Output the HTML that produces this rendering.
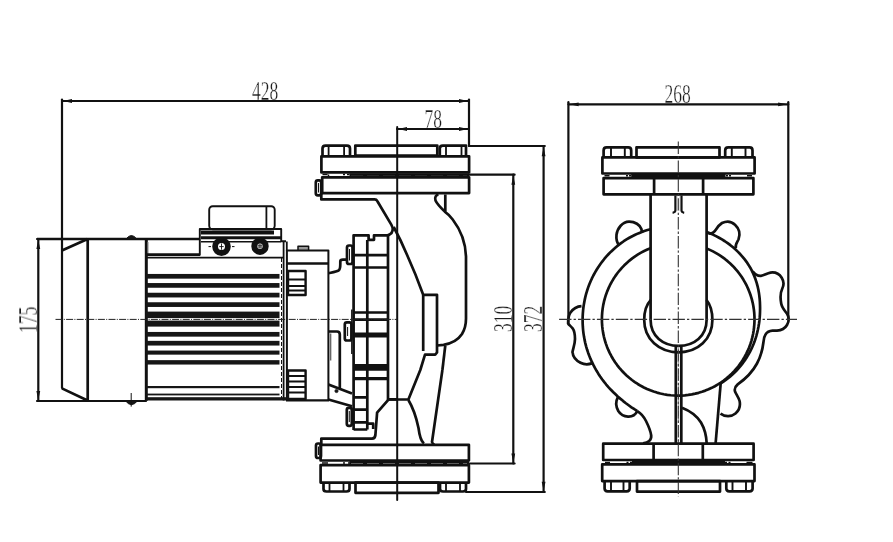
<!DOCTYPE html>
<html><head><meta charset="utf-8"><style>
html,body{margin:0;padding:0;background:#fff;width:893px;height:542px;overflow:hidden}
svg{display:block}
.t{font-family:"Liberation Serif",serif;font-size:27px;fill:#1a1a1a;stroke:#fff;stroke-width:0.35px}
</style></head><body>
<svg width="893" height="542" viewBox="0 0 893 542">
<defs>
<path id="arr" d="M0,0 L9,-1.9 L9,1.9 Z" fill="#111"/>
</defs>
<!-- texts -->
<g opacity="0.995">
<text class="t" transform="translate(252,100) scale(0.65,1)">428</text>
<text class="t" transform="translate(424.5,128) scale(0.65,1)">78</text>
<text class="t" transform="translate(664.5,103) scale(0.65,1)">268</text>
<text class="t" transform="translate(37,333) rotate(-90) scale(0.65,1)">175</text>
<text class="t" transform="translate(512,332) rotate(-90) scale(0.65,1)">310</text>
<text class="t" transform="translate(541.5,332) rotate(-90) scale(0.65,1)">372</text>
</g>
<g fill="none" stroke="#111" stroke-width="2" stroke-linecap="round">
<!-- ============ DIMENSIONS ============ -->
<g stroke-width="2.2">
<!-- 428 -->
<line x1="62" y1="101" x2="469" y2="101"/>
<line x1="62" y1="99.5" x2="62" y2="388"/>
<line x1="469" y1="99.5" x2="469" y2="146"/>
<!-- 78 -->
<line x1="397" y1="129" x2="469" y2="129"/>
<!-- 175 -->
<line x1="38.3" y1="239" x2="38.3" y2="401"/>
<line x1="37" y1="239" x2="88" y2="239"/>
<line x1="37" y1="401" x2="146" y2="401"/>
<!-- 310 -->
<line x1="513.3" y1="174.7" x2="513.3" y2="463.5"/>
<line x1="469" y1="174.7" x2="514.6" y2="174.7"/>
<line x1="469" y1="463.5" x2="514.6" y2="463.5"/>
<!-- 372 -->
<line x1="543.6" y1="146" x2="543.6" y2="492"/>
<line x1="469" y1="146" x2="544.8" y2="146"/>
<line x1="466" y1="492" x2="544.8" y2="492"/>
<!-- 268 -->
<line x1="568.4" y1="104.3" x2="788.3" y2="104.3"/>
<line x1="568.4" y1="102.2" x2="568.4" y2="323"/>
<line x1="788.3" y1="102.2" x2="788.3" y2="319.5"/>
</g>
<!-- pump axis -->
<line x1="397.2" y1="127" x2="397.2" y2="500" stroke-width="2"/>
</g>

<!-- ============ MOTOR ============ -->
<g fill="none" stroke="#111" stroke-width="2.7" stroke-linejoin="round">
<!-- end cap -->
<path d="M61.9,250.5 L87.6,239 M61.9,388.4 L87.6,400.5 M87.7,239 L87.7,400.8"/>
<line x1="37" y1="239" x2="199" y2="239"/>
<!-- bolt bumps -->
<path d="M126,239 Q131.4,232 136.8,239 Z" fill="#161616" stroke-width="1"/>
<path d="M125.5,400.8 Q131.4,408.5 137.5,400.8 Z" fill="#161616" stroke-width="1"/>
<line x1="131.2" y1="393" x2="131.2" y2="406.6" stroke-width="1"/>
<!-- body left edge -->
<line x1="146.3" y1="239" x2="146.3" y2="400.8" stroke-width="3"/>
<line x1="148" y1="242" x2="148" y2="255" stroke-width="1" stroke="#888"/>
<line x1="146" y1="254.6" x2="200" y2="254.6" stroke-width="2.6"/>
<line x1="146" y1="257.6" x2="283" y2="257.6" stroke-width="1.6"/>
</g>
<!-- fins -->
<g fill="#161616">
<rect x="146" y="273.95" width="133.5" height="4.70"/>
<rect x="146" y="283.05" width="133.5" height="4.70"/>
<rect x="146" y="292.75" width="133.5" height="4.70"/>
<rect x="146" y="302.25" width="133.5" height="4.70"/>
<rect x="146" y="311.6" width="133.5" height="6.5"/>
<rect x="146" y="320.6" width="133.5" height="6.0"/>
<rect x="146" y="331.95" width="133.5" height="4.70"/>
<rect x="146" y="340.85" width="133.5" height="4.70"/>
<rect x="146" y="350.55" width="133.5" height="4.10"/>
<rect x="146" y="360.15" width="133.5" height="4.40"/>
<rect x="146" y="386" width="133.5" height="2.2"/>
<rect x="146" y="393.6" width="133.5" height="1.8"/>
<rect x="146" y="397.2" width="140" height="3.3"/>
</g>
<g fill="none" stroke="#111" stroke-width="2.7" stroke-linejoin="round">
<!-- motor right edges -->
<line x1="283.6" y1="241.5" x2="283.6" y2="400.5" stroke-width="1.8"/>
<line x1="286.8" y1="241.5" x2="286.8" y2="251" stroke-width="1.8"/>
<line x1="281.5" y1="258" x2="281.5" y2="398" stroke-width="1" stroke-dasharray="4 2"/>
<!-- terminal box -->
<rect x="209.2" y="206.2" width="65.5" height="23" rx="3.5" stroke-width="1.9"/>
<line x1="266.4" y1="206.2" x2="266.4" y2="229" stroke-width="1.8"/>
<path d="M199.8,255.5 L199.8,229 L281.2,229 L281.2,241.3 L286,241.3" stroke-width="1.9"/>
<line x1="201" y1="232.5" x2="274" y2="232.5" stroke-width="4"/>
<line x1="201" y1="237.8" x2="281" y2="237.8" stroke-width="3"/>
<line x1="201" y1="241.8" x2="281" y2="241.8" stroke-width="1.5"/>
<!-- glands -->
<circle cx="221.5" cy="246.6" r="6.4" stroke-width="5.8"/>
<circle cx="260" cy="246.2" r="5.7" stroke-width="6"/>
<path d="M221.5,243.5 v6.2 M219.3,246.6 h4.4" stroke-width="0.9"/><path d="M208.5,246.6 h2.5 M232,246.6 h2.5" stroke-width="1"/>
<path d="M259.2,243.8 v4.8 M260.9,243.8 v4.8 M257.6,245.4 h4.8 M257.6,247 h4.8" stroke-width="0.7"/>
<!-- adapter -->
<path d="M286.9,400.5 L286.9,250.4 L328.4,250.4 L328.4,400.5" stroke-width="2"/>
<rect x="298" y="246.3" width="10.6" height="4" fill="#999" stroke-width="1.5"/>
<line x1="287" y1="263.5" x2="328.4" y2="263.5" stroke-width="2.4"/>
<rect x="288" y="271" width="17.6" height="24" stroke-width="2.4"/>
<path d="M288,279.5 h17.6 M288,286 h17.6 M288,290.5 h17.6" stroke-width="1.8"/>
<!-- lower fins block -->
<rect x="288" y="370.5" width="17.6" height="28.5" stroke-width="2.4"/>
<path d="M288,376 h17.6 M288,381.5 h17.6 M288,387 h17.6 M288,392.5 h17.6" stroke-width="1.8"/>
<line x1="286" y1="400.4" x2="329" y2="400.4" stroke-width="2.2"/>
</g>

<!-- ============ PUMP (side view) ============ -->
<g fill="none" stroke="#111" stroke-width="2.7" stroke-linejoin="round">
<!-- upper flange -->
<path d="M322.5,155.7 L322.5,148.5 Q322.5,145.6 325.5,145.6 L347,145.6 Q350,145.6 350,148.5 L350,155.7" />
<path d="M328.6,146 v9.5 M344.1,146 v9.5" stroke-width="1.8"/>
<rect x="355.3" y="145.6" width="82" height="10.1"/>
<path d="M439.8,155.7 L439.8,148.5 Q439.8,145.6 442.8,145.6 L466,145.6 L466,155.7" />
<path d="M446,146 v9.5 M461.5,146 v9.5" stroke-width="1.8"/>
<rect x="321.4" y="156.3" width="147.7" height="16.1"/>
<line x1="349.5" y1="175" x2="469" y2="175" stroke-width="3.6"/>
<line x1="351" y1="176.3" x2="467" y2="176.3" stroke-width="0.8" stroke="#fff" stroke-opacity="0.6" stroke-dasharray="12 4"/>
<path d="M322.5,174.6 h5 M328.5,174.6 v2.5 M343,174.6 h2 M347,174.6 h2.5" stroke-width="1.5"/>
<rect x="322.2" y="177.3" width="146.9" height="15.8"/>
<rect x="315.8" y="180.3" width="5.4" height="15" rx="2"/>
<line x1="318.5" y1="183" x2="318.5" y2="192.5" stroke-width="1"/>
<!-- body top -->
<path d="M321.3,193.4 L321.3,199.4 L374.6,199.4 Q376.4,199.4 377.4,201.2 L391.3,224.6 C393.6,228.3 393.2,232.6 389.5,234.6 L388,235.1"/>
<!-- seal housing -->
<path d="M353.6,430 L353.6,235.3 L368.6,235.3 L368.6,239.8 L374,239.8 L374,235.3 L388,235.3 L388,399.4 L397,399.4"/>
<line x1="367.3" y1="240" x2="367.3" y2="429.5"/>
<path d="M353.6,255.2 h34.4 M353.6,267.5 h34.4" />
<path d="M353.6,312.5 h34.4 M353.6,319.6 h34.4" />
<path d="M353.6,397.3 h13.7 M353.6,409.6 h13.7 M353.6,422.3 h13.7" />
<line x1="353.6" y1="334.9" x2="388" y2="334.9" stroke-width="5"/>
<line x1="353.6" y1="367.4" x2="388" y2="367.4" stroke-width="6.7"/>
<line x1="353.6" y1="378.6" x2="388" y2="378.6" stroke-width="3.3"/>
<path d="M353.6,429.5 L367.3,429.5 M367.3,423.7 L373.2,423.7 L373.2,429" />
<line x1="351.8" y1="309.6" x2="351.8" y2="353.9" stroke-width="1.4"/>
<!-- tabs -->
<rect x="347" y="245.5" width="5.5" height="18.5" rx="2"/>
<rect x="344.8" y="322.3" width="6.6" height="18.2" rx="2"/>
<rect x="346.8" y="407.8" width="5" height="18" rx="2"/>
<path d="M349.5,249 v11.5 M347.6,327 v9 M349.3,411 v11" stroke-width="1"/>
<!-- connector from adapter -->
<path d="M328.4,273.3 C333,272.2 336.5,271.5 338.5,270.5 C340.3,269.5 340.3,267 340.3,264 L340.3,261.5 C340.3,260.2 341.5,259.6 343,259.6 L347,259.6"/>
<!-- bracket -->
<path d="M328.4,331.5 L337,331.5 Q339.8,331.5 339.8,334.5 L339.8,388"/>
<line x1="330.6" y1="333.5" x2="330.6" y2="360.5" stroke-width="1.5" stroke="#666"/>
<path d="M328.4,384.5 L352,393.6 M328.4,399.5 L352,406.2"/>
<circle cx="336.5" cy="391" r="1.6" fill="#161616" stroke-width="0.8"/>
<!-- pump body right -->
<path d="M388,399.5 L408.4,399.5 L420.3,370 L425,354.7 L435.2,354.7 L437,352.5 L437,294.8 L423.2,294.8 C419,283 413,268 407,254.7 C402,243 397.5,234 393.7,227"/>
<line x1="423.2" y1="294.8" x2="423.2" y2="351"/>
<path d="M408.4,400 C412,406 416,416 418.5,428 C419.5,436 420.5,441 424,443.5"/>
<path d="M442.4,370 L432,442 Q432.5,444 434.5,444.5"/>
<path d="M437,345.5 L443.5,344.8 C452,343.5 458,340 462,334 C465,329 466,324 466,318.7 L466,256.4 C465.5,241 460,229 452.7,219.5 C450,216 447.5,213.5 445.3,212.1 L445.3,194.6"/>
<path d="M445.3,212.1 C441,208 437,204 435.5,200.5 C434.5,197 436,194.8 438.5,194.6"/>
<path d="M445.3,345.5 L442.4,370"/>
<path d="M388.7,399.4 L377.1,412.7 L375.4,435 Q375,438.7 372,438.7 L321.3,438.7 L321.3,444.7"/>
<!-- lower flange -->
<rect x="320.6" y="444.8" width="148.3" height="15.7"/>
<rect x="316" y="443.5" width="5" height="14.5" rx="2"/>
<line x1="318.5" y1="446.5" x2="318.5" y2="455" stroke-width="1"/>
<line x1="349.5" y1="463" x2="469" y2="463" stroke-width="4"/>
<line x1="351" y1="463.6" x2="467" y2="463.6" stroke-width="0.8" stroke="#fff" stroke-opacity="0.6" stroke-dasharray="12 4"/>
<path d="M322,463 h6 M343,463 h2 M348,463 h2" stroke-width="1.6"/>
<rect x="320.6" y="465.2" width="148.3" height="17.4"/>
<path d="M323.5,482.6 L323.5,489 Q323.5,491.5 326.5,491.5 L346.5,491.5 Q349.5,491.5 349.5,489 L349.5,482.6" />
<path d="M329.5,483 v8 M343.5,483 v8" stroke-width="1.8"/>
<rect x="355.5" y="482.6" width="83" height="10.2"/>
<path d="M440,482.6 L440,489 Q440,491.5 443,491.5 L463,491.5 Q466,491.5 466,489 L466,482.6" />
<path d="M446,483 v8 M460,483 v8" stroke-width="1.8"/>
</g>

<!-- ============ RIGHT VIEW ============ -->
<g fill="none" stroke="#111" stroke-width="2.7" stroke-linejoin="round">
<!-- upper flange -->
<path d="M603.6,157.4 L603.6,150.4 Q603.6,147.4 606.6,147.4 L628.3,147.4 Q631.2,147.4 631.2,150.4 L631.2,157.4"/>
<path d="M611,148 v9.3 M624.8,148 v9.3" stroke-width="1.9"/>
<rect x="636.5" y="147.3" width="83" height="10.1"/>
<path d="M725.2,157.4 L725.2,150.4 Q725.2,147.4 728.2,147.4 L749.6,147.4 Q752.5,147.4 752.5,150.4 L752.5,157.4"/>
<path d="M731.8,148 v9.3 M745.5,148 v9.3" stroke-width="1.9"/>
<rect x="602.4" y="157.4" width="152.2" height="16.1"/>
<line x1="631.2" y1="175.8" x2="725.5" y2="175.8" stroke-width="3.4"/>
<path d="M604.5,175.8 h5 M626,175.8 h2 M629,175.8 h2 M726,175.8 h2 M729,175.8 h2 M747,175.8 h5" stroke-width="1.5"/>
<rect x="603.6" y="178.1" width="149.8" height="16.2"/>
<path d="M654.1,178.3 v16 M703.1,178.3 v16"/>
<!-- pipe walls and eye -->
<path d="M650.6,194.7 L650.6,319.9 C650.6,336 663,345.8 678.6,345.8 C694.2,345.8 706.6,336 706.6,319.9 L706.6,194.7"/>
<path d="M650.8,299.9 C646,305 644.2,312 644.2,320 C644.2,339 659,352.3 678.6,352.3 C698,352.3 712.4,339 712.4,320 C712.4,312 710.6,305 706.4,299.9"/>
<!-- rib -->
<path d="M675.8,346.5 L675.8,443.7 M681.3,346.5 L681.3,443.7"/>
<line x1="678.5" y1="348" x2="678.5" y2="443" stroke-width="0.8" stroke="#888" stroke-dasharray="5 2"/>
<!-- pi detail -->
<path d="M675.4,195.5 L675.4,210.5 Q675.2,212.4 672.6,212.8 M681.5,195.5 L681.5,210.5 Q681.7,212.4 684.2,212.8" stroke-width="2.2"/>
<path d="M677.4,196 v15 M679.6,196 v15" stroke-width="0.6" stroke="#ccc"/>
<!-- volute -->
<path d="M706.60,232.00 L709.79,233.26 L712.93,234.63 L716.01,236.12 L719.03,237.72 L721.98,239.43 L724.86,241.24 L727.67,243.16 L730.39,245.18 L733.02,247.32 L735.57,249.55 L738.00,251.88 L740.34,254.31 L742.58,256.82 L744.70,259.43 L746.71,262.10 L748.55,264.89 L750.28,267.74 L751.84,270.68 L753.26,273.67 L754.55,276.72 L755.68,279.80 L756.68,282.92 L757.54,286.07 L758.27,289.22 L758.86,292.40 L759.31,295.57 L759.66,298.74 L759.89,301.90 L760.01,305.05 L760.08,308.17 L760.03,311.28 L759.91,314.36 L759.71,317.43 L759.40,320.47 L759.01,323.49 L758.51,326.48 L757.94,329.44 L757.26,332.38 L756.51,335.28 L755.66,338.15 L754.71,340.97 L753.66,343.76 L752.51,346.49 L751.27,349.18 L749.94,351.81 L748.52,354.39 L747.02,356.92 L745.43,359.38 L743.76,361.79 L742.01,364.12 L740.19,366.40 L738.28,368.60 L736.31,370.73 L734.27,372.79 L732.15,374.77 L729.98,376.67 L727.74,378.50 L725.44,380.24 L723.09,381.91 L720.68,383.49"/>
<path d="M650.60,229.18 L647.45,230.06 L644.33,231.05 L641.24,232.17 L638.20,233.39 L635.20,234.74 L632.25,236.20 L629.36,237.77 L626.52,239.45 L623.75,241.23 L621.05,243.13 L618.41,245.12 L615.86,247.21 L613.38,249.40 L610.99,251.67 L608.67,254.03 L606.44,256.46 L604.29,258.97 L602.23,261.56 L600.26,264.22 L598.39,266.94 L596.61,269.73 L594.94,272.58 L593.36,275.49 L591.89,278.46 L590.52,281.47 L589.26,284.53 L588.10,287.63 L587.06,290.77 L586.13,293.94 L585.30,297.15 L584.59,300.38 L583.99,303.63 L583.49,306.90 L583.11,310.19 L582.83,313.49 L582.66,316.80 L582.61,320.11 L582.66,323.42 L582.83,326.73 L583.10,330.04 L583.48,333.33 L583.98,336.61 L584.58,339.88 L585.29,343.12 L586.12,346.34 L587.06,349.53 L588.11,352.69 L589.27,355.82 L590.53,358.90 L591.89,361.94 L593.35,364.94 L594.92,367.90 L596.56,370.81 L598.31,373.66 L600.15,376.46 L602.08,379.21 L604.11,381.89 L606.22,384.52 L608.41,387.07 L610.69,389.56 L613.06,391.98 L615.51,394.33 L617.99,396.65 L620.56,398.89 L623.19,401.08 L625.88,403.22 L628.65,405.27 L631.47,407.29 L634.38,409.21 L637.34,411.06"/>
<path d="M706.60,248.48 L709.83,249.87 L713.00,251.40 L716.09,253.07 L719.10,254.89 L722.03,256.84 L724.86,258.93 L727.59,261.14 L730.22,263.48 L732.74,265.94 L735.14,268.51 L737.42,271.18 L739.57,273.96 L741.59,276.84 L743.48,279.81 L745.23,282.86 L746.84,285.99 L748.30,289.18 L749.62,292.45 L750.78,295.77 L751.79,299.14 L752.64,302.55 L753.33,306.00 L753.86,309.47 L754.24,312.97 L754.45,316.48 L754.50,320.00 L754.38,323.51 L754.11,327.02 L753.67,330.51 L753.08,333.97 L752.32,337.41 L751.41,340.80 L750.34,344.15 L749.12,347.45 L747.74,350.69 L746.22,353.86 L744.56,356.96 L742.75,359.98 L740.81,362.91 L738.73,365.75 L736.53,368.49 L734.20,371.12 L731.75,373.65 L729.19,376.06 L726.52,378.35 L723.75,380.51 L720.88,382.55 L717.92,384.45 L714.88,386.21 L711.75,387.83 L708.56,389.30 L705.30,390.62 L701.99,391.80 L698.62,392.82 L695.21,393.68 L691.77,394.38 L688.29,394.93 L684.80,395.31 L681.29,395.54 L677.77,395.60 L674.25,395.50 L670.75,395.24 L667.26,394.81 L663.79,394.23 L660.35,393.48 L656.95,392.58 L653.60,391.52 L650.30,390.31 L647.05,388.95 L643.88,387.44 L640.77,385.79 L637.75,383.99 L634.81,382.06 L631.96,380.00 L629.22,377.80 L626.57,375.48 L624.04,373.04 L621.62,370.49 L619.32,367.83 L617.15,365.06 L615.10,362.20 L613.19,359.25 L611.42,356.21 L609.79,353.09 L608.31,349.90 L606.97,346.65 L605.79,343.34 L604.76,339.98 L603.88,336.57 L603.16,333.13 L602.61,329.66 L602.21,326.16 L601.97,322.65 L601.90,319.14 L601.99,315.62 L602.24,312.11 L602.65,308.62 L603.22,305.15 L603.96,301.71 L604.84,298.31 L605.89,294.95 L607.09,291.64 L608.44,288.40 L609.94,285.21 L611.58,282.10 L613.37,279.07 L615.29,276.13 L617.34,273.28 L619.53,270.52 L621.84,267.87 L624.27,265.33 L626.81,262.90 L629.47,260.59 L632.22,258.41 L635.08,256.35 L638.03,254.43 L641.06,252.65 L644.17,251.01 L647.35,249.51 L650.60,248.17"/>
<!-- lugs -->
<path d="M618.6,244.6 C616.4,241.5 616.2,238 616.5,234.8 C617.4,228 622.5,221.8 629,221.6 C635,221.5 640,225 641.4,229 L642,232.6"/>
<path d="M707.8,232.6 C710,234 712.8,233.6 714.8,231.2 C716.5,228 718.5,225.2 722,223 C726.5,220.8 731.5,221.3 735,224.8 C739,228.5 740.5,234 738.5,239.5 C737,242.5 735,244.5 735.8,248.2"/>
<path d="M752.7,271.4 C755,274.5 758,276 761,275.8 C764,275.6 766.5,273.5 770.5,272.6 C775,272 779,273.5 781.7,277.7 C783.8,281 784,285 782.3,288.5 C780.6,292 780,297 781.2,303.5 C782,308 785,311 787.2,314 C789,317 789,321.5 787,325 C785,328.5 781.5,330.4 777,330.6 L772.6,330.7 C769.5,330.9 767,332 765.5,334.5 C763.8,337 763.6,340 763.4,342.5 C762.5,350 760.5,357 757,363.5 C753,371 746,378.5 737.7,384.4 C735.2,386.5 734.3,389 735,391.5 C736,394 738.5,397 739.6,401 C740.5,405.5 739,410.5 735.5,413.5 C731.5,416.8 725,417 720.5,413.6"/>
<path d="M581.5,306.2 C577,306.5 573,309 570.5,312.5 C568.6,315 568.1,318 568.1,323.5 C569,325 571,326.3 572.6,328.3 C574.5,331 575,335 575,339 C575,344 573,348.5 572.5,352 C572.8,356.5 576,360.5 580.5,362.8 C584,364.5 588,364.7 591.8,363.4"/>
<path d="M617.8,397.5 C615.8,401 615.6,406 618.3,411 C620.5,414.5 624,416.5 628,416.6 C632,416.8 635.5,414.7 637.3,411.1"/>
<!-- neck -->
<path d="M637.3,411.1 C641.5,413.6 644,417 646,421 C648.5,426 650.6,431 651.2,435.5 C651.6,440 648,442.8 643,443.3"/>
<path d="M720.7,383.2 L715.6,443.5"/>
<path d="M682,407.7 C690.5,411 697,416 701,422.5 C704.5,428.5 706.4,436 706.7,443.5"/>
<!-- lower flange -->
<rect x="603.2" y="443.7" width="150.4" height="16.3"/>
<path d="M653.6,444 v15.5 M702.8,444 v15.5"/>
<line x1="632" y1="462.6" x2="725" y2="462.6" stroke-width="3.6"/>
<path d="M605,462.6 h5 M626.5,462.6 h2 M630,462.6 h2 M725,462.6 h2 M728.5,462.6 h2 M746.5,462.6 h6" stroke-width="1.6"/>
<rect x="602.2" y="464.4" width="152.3" height="16.7"/>
<path d="M604.6,481.1 L604.6,488.6 Q604.6,491.4 607.6,491.4 L626.7,491.4 Q629.7,491.4 629.7,488.6 L629.7,481.1"/>
<path d="M611,481.5 v9.5 M623.5,481.5 v9.5" stroke-width="1.9"/>
<rect x="637" y="481.1" width="83" height="10.5"/>
<path d="M726.3,481.1 L726.3,488.6 Q726.3,491.4 729.3,491.4 L749.6,491.4 Q752.6,491.4 752.6,488.6 L752.6,481.1"/>
<path d="M732.5,481.5 v9.5 M746,481.5 v9.5" stroke-width="1.9"/>
</g>
<!-- arrows -->
<g>
<use href="#arr" transform="translate(63,101)"/>
<use href="#arr" transform="translate(468,101) rotate(180)"/>
<use href="#arr" transform="translate(398,129)"/>
<use href="#arr" transform="translate(468,129) rotate(180)"/>
<use href="#arr" transform="translate(38.3,240) rotate(90)"/>
<use href="#arr" transform="translate(38.3,400) rotate(-90)"/>
<use href="#arr" transform="translate(513.3,175.8) rotate(90)"/>
<use href="#arr" transform="translate(513.3,462.4) rotate(-90)"/>
<use href="#arr" transform="translate(543.6,147.2) rotate(90)"/>
<use href="#arr" transform="translate(543.6,490.8) rotate(-90)"/>
<use href="#arr" transform="translate(569.6,104.3)"/>
<use href="#arr" transform="translate(787.1,104.3) rotate(180)"/>
</g>
<!-- center lines -->
<g stroke="#222" stroke-width="1" fill="none" stroke-dasharray="7 1.3 1 1.3">
<line x1="55.5" y1="319.4" x2="397" y2="319.4"/>
</g>
<g stroke="#333" stroke-width="1.1" fill="none" stroke-dasharray="12.4 2.1 2.3 2.1">
<line x1="559.1" y1="319.4" x2="797" y2="319.4"/>
<line x1="678.3" y1="141.5" x2="678.3" y2="496.5"/>
</g>
</svg>
</body></html>
